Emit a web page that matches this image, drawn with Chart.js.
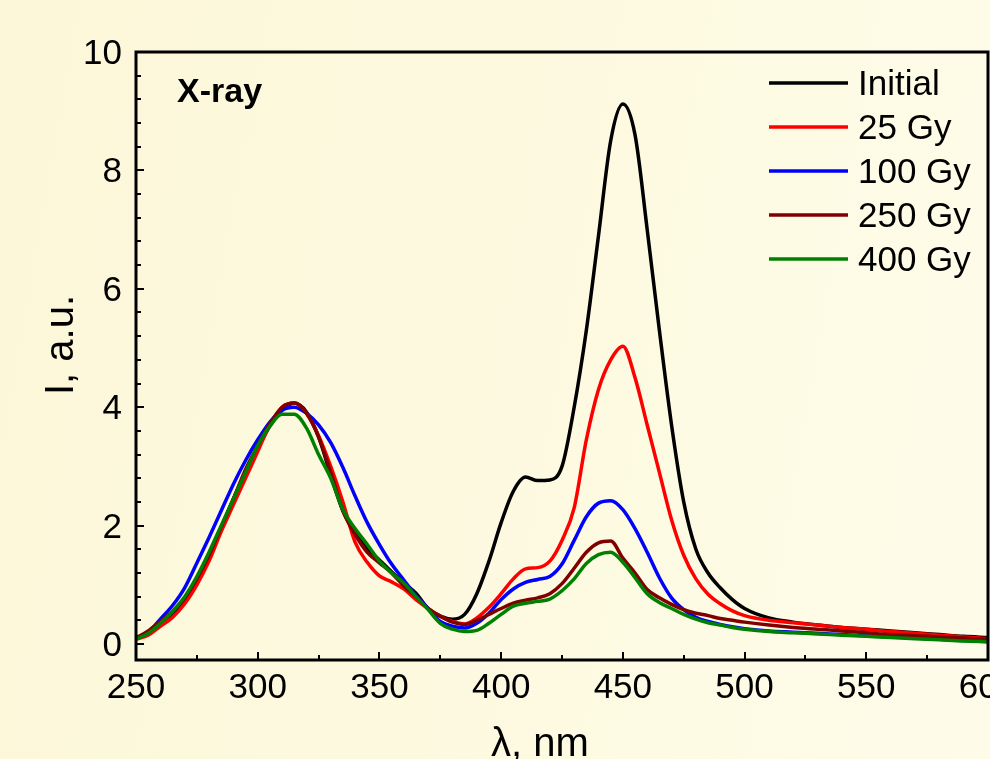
<!DOCTYPE html>
<html>
<head>
<meta charset="utf-8">
<title>X-ray spectra</title>
<script src="https://cdn.jsdelivr.net/npm/chart.js@4.4.0/dist/chart.umd.min.js"></script>
<style>
    html, body { margin: 0; padding: 0; }
    body {
        width: 990px;
        height: 759px;
        overflow: hidden;
        background: linear-gradient(100deg, #fcf7d8 0%, #fdf9df 45%, #fefce9 100%);
    }
    canvas { display: block; }
</style>
</head>
<body>
<canvas id="spectra" width="990" height="759"></canvas>
<script>
// Wavelength grid, nm
var wavelengths = [250, 255, 260, 265, 270, 275, 280, 285, 290, 295,
    300, 305, 310, 315, 320, 325, 330, 335, 340, 345,
    350, 355, 360, 365, 370, 375, 380, 385, 390, 395,
    400, 405, 410, 415, 420, 425, 430, 435, 440, 445,
    450, 455, 460, 465, 470, 475, 480, 485, 490, 495,
    500, 510, 520, 530, 540, 550, 560, 570, 580, 590, 600];

// Intensity, a.u.
var initial = [0.10, 0.20, 0.32, 0.50, 0.75, 1.08, 1.50, 1.95, 2.45, 2.90,
    3.30, 3.68, 3.95, 4.07, 3.92, 3.50, 2.85, 2.25, 1.88, 1.60,
    1.42, 1.22, 1.03, 0.86, 0.60, 0.47, 0.42, 0.50, 0.85, 1.40,
    2.05, 2.58, 2.82, 2.76, 2.77, 3.00, 4.00, 5.30, 6.90, 8.50,
    9.12, 8.60, 7.00, 5.30, 3.70, 2.40, 1.60, 1.20, 0.95, 0.75,
    0.60, 0.44, 0.37, 0.32, 0.28, 0.25, 0.22, 0.19, 0.16, 0.13, 0.11];

var gy25 = [0.08, 0.15, 0.30, 0.45, 0.68, 1.00, 1.40, 1.90, 2.35, 2.80,
    3.25, 3.70, 4.00, 4.07, 3.90, 3.52, 3.00, 2.40, 1.72, 1.38,
    1.15, 1.05, 0.93, 0.75, 0.60, 0.47, 0.38, 0.34, 0.44, 0.62,
    0.85, 1.10, 1.27, 1.29, 1.40, 1.75, 2.30, 3.45, 4.30, 4.80,
    5.03, 4.50, 3.70, 2.90, 2.10, 1.50, 1.10, 0.84, 0.68, 0.56,
    0.48, 0.40, 0.36, 0.32, 0.28, 0.25, 0.21, 0.18, 0.15, 0.12, 0.09];

var gy100 = [0.10, 0.20, 0.42, 0.65, 0.95, 1.37, 1.80, 2.25, 2.70, 3.10,
    3.45, 3.75, 3.95, 4.00, 3.90, 3.70, 3.40, 2.98, 2.50, 2.05,
    1.68, 1.35, 1.08, 0.82, 0.60, 0.38, 0.30, 0.27, 0.35, 0.52,
    0.75, 0.93, 1.04, 1.09, 1.14, 1.35, 1.75, 2.15, 2.38, 2.42,
    2.27, 1.95, 1.55, 1.12, 0.78, 0.58, 0.45, 0.38, 0.33, 0.29,
    0.26, 0.22, 0.20, 0.18, 0.16, 0.14, 0.12, 0.10, 0.08, 0.06, 0.04];

var gy250 = [0.10, 0.22, 0.38, 0.55, 0.78, 1.10, 1.50, 1.98, 2.45, 2.95,
    3.35, 3.72, 4.00, 4.07, 3.90, 3.50, 2.90, 2.25, 1.85, 1.55,
    1.37, 1.20, 0.98, 0.80, 0.60, 0.47, 0.37, 0.33, 0.40, 0.50,
    0.60, 0.69, 0.74, 0.78, 0.85, 1.02, 1.28, 1.55, 1.71, 1.74,
    1.45, 1.20, 0.92, 0.78, 0.67, 0.58, 0.52, 0.48, 0.43, 0.40,
    0.37, 0.32, 0.28, 0.25, 0.22, 0.19, 0.16, 0.14, 0.12, 0.10, 0.08];

var gy400 = [0.08, 0.18, 0.35, 0.55, 0.80, 1.14, 1.55, 2.00, 2.45, 2.90,
    3.35, 3.68, 3.88, 3.88, 3.65, 3.20, 2.80, 2.27, 1.95, 1.68,
    1.40, 1.20, 1.03, 0.80, 0.58, 0.35, 0.25, 0.21, 0.23, 0.35,
    0.50, 0.64, 0.69, 0.72, 0.76, 0.90, 1.10, 1.36, 1.51, 1.55,
    1.38, 1.12, 0.85, 0.70, 0.60, 0.50, 0.42, 0.36, 0.32, 0.28,
    0.25, 0.21, 0.19, 0.17, 0.15, 0.13, 0.11, 0.09, 0.07, 0.05, 0.04];

var seriesNames = ['Initial', '25 Gy', '100 Gy', '250 Gy', '400 Gy'];
var seriesColors = ['#000000', '#ff0000', '#0000ff', '#800000', '#008000'];

// Tick labels
var xTickLabels = [250, 300, 350, 400, 450, 500, 550, 600];
var yTickLabels = [0, 2, 4, 6, 8, 10];

var FONT = "'Liberation Sans', Arial, sans-serif";

function toPoints(values) {
    return values.map(function(v, i) {
        return { x: wavelengths[i], y: v };
    });
}

// Axes frame, inward ticks, labels, legend and titles
var framePlugin = {
    id: 'frame',
    afterDraw: function(chart) {
        var ctx = chart.ctx;
        var area = chart.chartArea;
        var xs = chart.scales.x;
        var ys = chart.scales.y;

        ctx.save();
        ctx.strokeStyle = '#000';
        ctx.fillStyle = '#000';

        // minor/major ticks pointing into the plot
        ctx.lineWidth = 2;
        for (var v = 0; v <= 10.001; v += 0.4) {
            var major = Math.abs(v / 2 - Math.round(v / 2)) < 0.01;
            var py = Math.round(ys.getPixelForValue(v));
            ctx.beginPath();
            ctx.moveTo(area.left, py);
            ctx.lineTo(area.left + (major ? 8 : 5), py);
            ctx.stroke();
        }
        for (var w = 275; w < 600; w += 25) {
            var px = Math.round(xs.getPixelForValue(w));
            ctx.beginPath();
            ctx.moveTo(px, area.bottom);
            ctx.lineTo(px, area.bottom - (w % 50 === 0 ? 8 : 5));
            ctx.stroke();
        }

        // box
        ctx.lineWidth = 3;
        ctx.strokeRect(area.left, area.top, area.right - area.left, area.bottom - area.top);

        // tick labels
        ctx.font = '35px ' + FONT;
        ctx.textAlign = 'right';
        ctx.textBaseline = 'alphabetic';
        yTickLabels.forEach(function(t) {
            ctx.fillText(String(t), 122, ys.getPixelForValue(t) + 12);
        });
        ctx.textAlign = 'center';
        xTickLabels.forEach(function(t) {
            ctx.fillText(String(t), xs.getPixelForValue(t), 698);
        });

        // axis titles
        ctx.font = '40px ' + FONT;
        ctx.fillText('\u03bb, nm', 540, 756);
        ctx.save();
        ctx.translate(73, 345);
        ctx.rotate(-Math.PI / 2);
        ctx.fillText('I, a.u.', 0, 0);
        ctx.restore();

        // inner label
        ctx.font = 'bold 34px ' + FONT;
        ctx.textAlign = 'left';
        ctx.fillText('X-ray', 177, 102);

        // legend
        ctx.font = '35px ' + FONT;
        ctx.lineWidth = 3.5;
        chart.data.datasets.forEach(function(ds, i) {
            var ly = 83 + i * 44;
            ctx.strokeStyle = ds.borderColor;
            ctx.beginPath();
            ctx.moveTo(769, ly);
            ctx.lineTo(848, ly);
            ctx.stroke();
            ctx.fillText(ds.label, 858, ly + 12);
        });
        ctx.restore();
    }
};

var seriesValues = [initial, gy25, gy100, gy250, gy400];

var chart = new Chart(document.getElementById('spectra'), {
    type: 'line',
    data: {
        datasets: seriesValues.map(function(vals, i) {
            return {
                label: seriesNames[i],
                data: toPoints(vals),
                borderColor: seriesColors[i],
                borderWidth: 3.5,
                pointRadius: 0,
                cubicInterpolationMode: 'monotone',
                fill: false,
                order: 5 - i
            };
        })
    },
    options: {
        responsive: false,
        animation: false,
        devicePixelRatio: 1,
        layout: {
            padding: { left: 136, right: 2, top: 52, bottom: 99 }
        },
        plugins: {
            legend: { display: false },
            tooltip: { enabled: false }
        },
        scales: {
            x: { type: 'linear', min: 250, max: 600, display: false },
            y: { type: 'linear', min: -0.27, max: 10, display: false }
        }
    },
    plugins: [framePlugin]
});
</script>
</body>
</html>
